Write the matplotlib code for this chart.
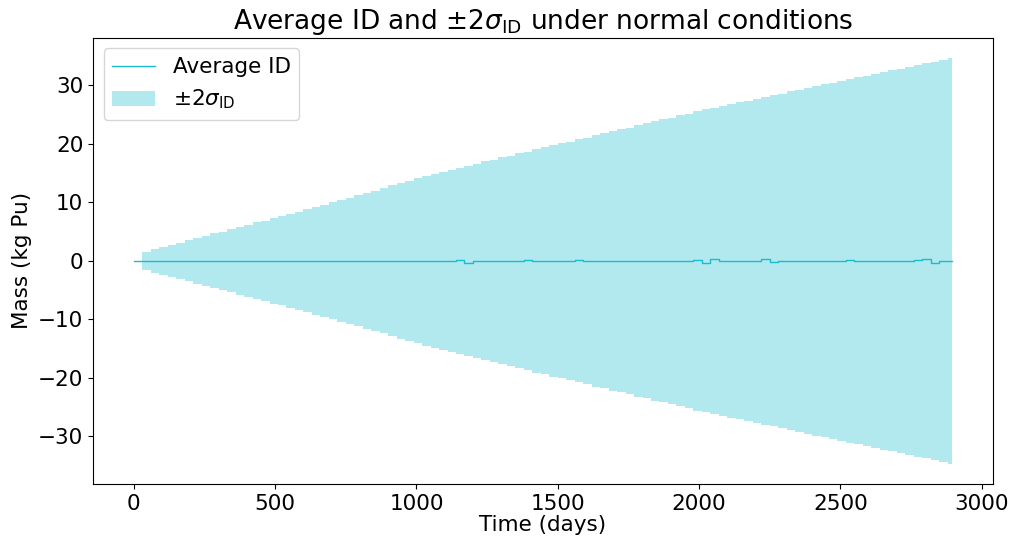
import numpy as np
import matplotlib
matplotlib.use('Agg')
import matplotlib.pyplot as plt

# monthly steps (days)
step_days = np.arange(30, 2881, 30)
end_day = 2895

# 2 sigma of ID, one value per month (kg Pu)
two_sigma = [1.6, 2.0, 2.4, 2.8, 3.1, 3.5, 3.9, 4.3, 4.7, 5.0,
             5.4, 5.8, 6.2, 6.6, 6.9, 7.3, 7.6, 8.0, 8.4, 8.8,
             9.2, 9.6, 10.0, 10.4, 10.8, 11.2, 11.6, 12.0, 12.4, 12.9,
             13.3, 13.7, 14.1, 14.5, 14.9, 15.2, 15.6, 15.9, 16.3, 16.6,
             17.0, 17.3, 17.7, 18.0, 18.4, 18.7, 19.1, 19.4, 19.8, 20.1,
             20.4, 20.8, 21.1, 21.5, 21.8, 22.2, 22.5, 22.8, 23.2, 23.5,
             23.9, 24.2, 24.5, 24.9, 25.2, 25.6, 25.9, 26.2, 26.5, 26.8,
             27.1, 27.4, 27.7, 28.0, 28.3, 28.6, 29.0, 29.3, 29.6, 29.9,
             30.2, 30.5, 30.8, 31.1, 31.4, 31.7, 32.0, 32.3, 32.6, 32.9,
             33.2, 33.5, 33.8, 34.1, 34.4, 34.7]

# average ID, one value per month starting at day 0
avg_id = [0.0, 0.0, 0.0, 0.0, 0.0, 0.0, 0.0, 0.0, 0.0, 0.0,
          0.0, 0.0, 0.0, 0.0, 0.0, 0.0, 0.0, -0.03, -0.08, 0.0,
          0.02, -0.02, 0.0, 0.03, -0.03, 0.02, 0.0, -0.05, 0.02, 0.0,
          -0.05, 0.03, 0.0, -0.06, 0.05, 0.0, -0.05, 0.03, 0.15, -0.3,
          0.0, 0.05, -0.05, 0.0, 0.02, -0.03, 0.15, 0.0, -0.03, 0.0,
          -0.05, 0.0, 0.12, 0.0, -0.08, 0.03, -0.1, 0.0, 0.05, -0.1,
          0.0, 0.03, -0.02, -0.08, 0.0, 0.03, 0.2, -0.35, 0.25, 0.0,
          0.02, 0.0, -0.05, 0.0, 0.25, -0.12, 0.0, 0.02, -0.05, 0.0,
          0.02, -0.08, -0.06, 0.0, 0.15, -0.05, 0.0, 0.03, -0.05, 0.0,
          -0.08, -0.05, 0.15, 0.3, -0.3, 0.05, 0.05]

band_x = np.append(step_days, end_day)
band_y = np.append(two_sigma, two_sigma[-1])
avg_x = np.append(np.arange(0, 2881, 30), end_day)
avg_y = np.append(avg_id, avg_id[-1])

fig, ax = plt.subplots(figsize=(10.11, 5.39), dpi=100)
ax.step(avg_x, avg_y, where='post', color='tab:cyan', linewidth=1.0, label='Average ID')
ax.fill_between(band_x, -band_y, band_y, step='post',
                color='tab:cyan', alpha=0.33, linewidth=0, label=r'$\pm2\sigma_{\mathrm{ID}}$')

ax.set_title(r'Average ID and $\pm2\sigma_{\mathrm{ID}}$ under normal conditions', fontsize=19)
ax.set_xlabel('Time (days)', fontsize=15.5, labelpad=1)
ax.set_ylabel('Mass (kg Pu)', fontsize=15.5)
ax.tick_params(labelsize=15.5)
ax.legend(loc='upper left', fontsize=15.5)
plt.subplots_adjust(left=0.092, right=0.982, top=0.93, bottom=0.102)
plt.savefig('out.png')
